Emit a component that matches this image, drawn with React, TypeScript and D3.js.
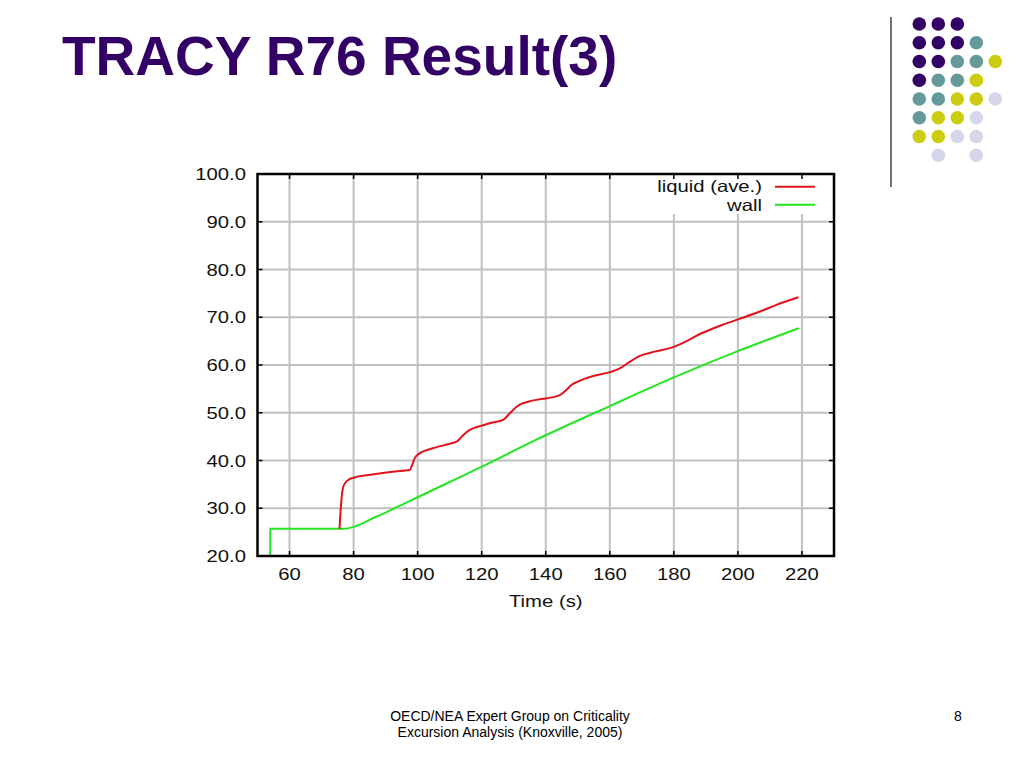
import * as d3 from "d3";

// time (s) / temperature for the averaged liquid
const liquidTime = [
  75.6, 76.0, 76.3, 76.7, 77.5, 78.5, 80, 84, 88, 93, 97.5, 98.3, 99.1, 100.6, 103, 106, 110,
  112.3, 114.2, 116, 118, 120, 123, 126.7, 128.8, 130.8, 132.5, 134.5, 137, 140, 144.4, 146.5,
  148, 150, 152, 154.8, 160, 163.1, 166.3, 169.4, 174, 180, 184, 188.5, 192, 196, 200.2, 206.9,
  212, 218.9,
];
const liquidTemp = [
  25.7, 30.0, 32.5, 34.3, 35.4, 36.0, 36.4, 36.9, 37.3, 37.7, 38.0, 39.1, 40.5, 41.5, 42.2, 42.8,
  43.5, 44.0, 45.3, 46.3, 46.9, 47.3, 47.9, 48.5, 49.9, 51.2, 51.9, 52.3, 52.7, 53.0, 53.7, 54.8,
  55.8, 56.5, 57.1, 57.7, 58.5, 59.3, 60.7, 61.9, 62.8, 63.8, 65.0, 66.6, 67.6, 68.6, 69.6, 71.2,
  72.6, 74.2,
];

// wall temperature
const wallTime = [54, 54, 77, 80, 83, 86, 90, 95, 100, 110, 120, 136.6, 160, 180, 200, 219];
const wallTemp = [20, 25.7, 25.7, 26.1, 26.9, 27.9, 29.1, 30.7, 32.3, 35.5, 38.7, 44.2, 51.4, 57.4, 62.9, 67.7];

const xTicks = [60, 80, 100, 120, 140, 160, 180, 200, 220];
const yTicks = [20, 30, 40, 50, 60, 70, 80, 90, 100];

const seriesNames = ["liquid (ave.)", "wall"];
const seriesColors = ["#e3121b", "#22e622"];

// decorative dot grid, top right (P purple, T teal, Y yellow, L lavender)
const dotRows = ["PPP..", "PPPT.", "PPTTY", "PTTY.", "TTYYL", "TYYL.", "YYLL.", ".L.L."];
const dotColors: Record<string, string> = {
  P: "#330066",
  T: "#669999",
  Y: "#cccc11",
  L: "#d6d6ea",
};

const W = 1024;
const H = 768;
const plot = { left: 257.5, right: 834, top: 174, bottom: 556 };
const SX = 1.23; // the chart image is stretched horizontally
const FONT = "'Liberation Sans', Arial, Helvetica, sans-serif";

export default function App() {
  const x = d3.scaleLinear().domain([50, 230]).range([plot.left, plot.right]);
  const y = d3.scaleLinear().domain([20, 100]).range([plot.bottom, plot.top]);

  const line = d3
    .line<[number, number]>()
    .x((d) => x(d[0]))
    .y((d) => y(d[1]))
    .curve(d3.curveMonotoneX);

  const liquid = liquidTime.map((t, i) => [t, liquidTemp[i]] as [number, number]);
  const wall = wallTime.map((t, i) => [t, wallTemp[i]] as [number, number]);
  const fmt = d3.format(".1f");
  const tick = 5;

  const stretched = (tx: number, ty: number) => `translate(${tx},${ty}) scale(${SX},1)`;

  return (
    <svg
      width={W}
      height={H}
      viewBox={`0 0 ${W} ${H}`}
      style={{ position: "absolute", left: 0, top: 0, background: "#fff" }}
    >
      <rect width={W} height={H} fill="#fff" />

      {/* slide title */}
      <text x={62} y={75} fontFamily={FONT} fontWeight="bold" fontSize={55} fill="#330066">
        TRACY R76 Result(3)
      </text>

      {/* dots and rule */}
      <line x1={891} x2={891} y1={17} y2={187} stroke="#444" strokeWidth={1.5} />
      {dotRows.map((row, r) =>
        row.split("").map((c, k) =>
          c === "." ? null : (
            <circle key={`${r}-${k}`} cx={919.3 + k * 19} cy={24 + r * 18.75} r={6.8} fill={dotColors[c]} />
          )
        )
      )}

      {/* grid */}
      <g stroke="#c0c0c0" strokeWidth={2}>
        {xTicks.map((t) => (
          <line key={`gx${t}`} x1={x(t)} x2={x(t)} y1={plot.top} y2={plot.bottom} />
        ))}
        {yTicks.slice(1, -1).map((v) => (
          <line key={`gy${v}`} x1={plot.left} x2={plot.right} y1={y(v)} y2={y(v)} />
        ))}
      </g>

      {/* legend background blanks the grid */}
      <rect x={640} y={plot.top + 1} width={plot.right - 641} height={39} fill="#fff" />

      {/* ticks on all four sides */}
      <g stroke="#000" strokeWidth={1.5}>
        {xTicks.map((t) => (
          <g key={`tx${t}`}>
            <line x1={x(t)} x2={x(t)} y1={plot.bottom} y2={plot.bottom - tick} />
            <line x1={x(t)} x2={x(t)} y1={plot.top} y2={plot.top + tick} />
          </g>
        ))}
        {yTicks.map((v) => (
          <g key={`ty${v}`}>
            <line x1={plot.left} x2={plot.left + tick} y1={y(v)} y2={y(v)} />
            <line x1={plot.right} x2={plot.right - tick} y1={y(v)} y2={y(v)} />
          </g>
        ))}
      </g>

      {/* series */}
      <path d={line(wall) ?? ""} fill="none" stroke={seriesColors[1]} strokeWidth={2} />
      <path d={line(liquid) ?? ""} fill="none" stroke={seriesColors[0]} strokeWidth={2} />

      {/* frame */}
      <rect
        x={plot.left}
        y={plot.top}
        width={plot.right - plot.left}
        height={plot.bottom - plot.top}
        fill="none"
        stroke="#000"
        strokeWidth={2.5}
      />

      {/* tick labels */}
      <g fontFamily={FONT} fontSize={16.5} fill="#111">
        {yTicks.map((v) => (
          <text key={`ly${v}`} transform={stretched(246, y(v) + 6)} textAnchor="end">
            {fmt(v)}
          </text>
        ))}
        {xTicks.map((t) => (
          <text key={`lx${t}`} transform={stretched(x(t), 580)} textAnchor="middle">
            {t}
          </text>
        ))}
        <text transform={stretched((plot.left + plot.right) / 2, 607)} textAnchor="middle">
          Time (s)
        </text>
      </g>

      {/* legend */}
      <g fontFamily={FONT} fontSize={16.5} fill="#111">
        {seriesNames.map((name, i) => (
          <g key={name}>
            <text transform={stretched(762, 192 + i * 18.5)} textAnchor="end">
              {name}
            </text>
            <line
              x1={775}
              x2={815}
              y1={186.7 + i * 18}
              y2={186.7 + i * 18}
              stroke={seriesColors[i]}
              strokeWidth={2}
            />
          </g>
        ))}
      </g>

      {/* footer */}
      <g fontFamily={FONT} fontSize={14} fill="#000" textAnchor="middle">
        <text x={510} y={720.5}>OECD/NEA Expert Group on Criticality</text>
        <text x={510} y={736.5}>Excursion Analysis (Knoxville, 2005)</text>
      </g>
      <text x={958} y={720.5} fontFamily={FONT} fontSize={14} textAnchor="middle">
        8
      </text>
    </svg>
  );
}
